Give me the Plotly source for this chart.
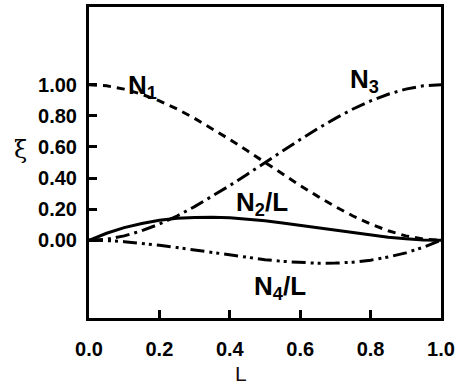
import plotly.graph_objects as go

x_vals = [0.0, 0.05, 0.1, 0.15, 0.2, 0.25, 0.3, 0.35, 0.4, 0.45, 0.5,
          0.55, 0.6, 0.65, 0.7, 0.75, 0.8, 0.85, 0.9, 0.95, 1.0]
n1_vals = [1.0, 0.993, 0.972, 0.939, 0.896, 0.844, 0.784, 0.718, 0.648, 0.575, 0.5,
           0.425, 0.352, 0.282, 0.216, 0.156, 0.104, 0.061, 0.028, 0.007, 0.0]
n2_vals = [0.0, 0.045, 0.081, 0.108, 0.128, 0.141, 0.147, 0.148, 0.144, 0.136, 0.125,
           0.111, 0.096, 0.080, 0.063, 0.047, 0.032, 0.019, 0.009, 0.002, 0.0]
n3_vals = [0.0, 0.007, 0.028, 0.061, 0.104, 0.156, 0.216, 0.282, 0.352, 0.425, 0.5,
           0.575, 0.648, 0.718, 0.784, 0.844, 0.896, 0.939, 0.972, 0.993, 1.0]
n4_vals = [0.0, -0.002, -0.009, -0.019, -0.032, -0.047, -0.063, -0.080, -0.096, -0.111, -0.125,
           -0.136, -0.144, -0.148, -0.147, -0.141, -0.128, -0.108, -0.081, -0.045, 0.0]

y_ticks = [0.0, 0.2, 0.4, 0.6, 0.8, 1.0]
y_tick_labels = ["0.00", "0.20", "0.40", "0.60", "0.80", "1.00"]
x_ticks = [0.0, 0.2, 0.4, 0.6, 0.8, 1.0]
x_tick_labels = ["0.0", "0.2", "0.4", "0.6", "0.8", "1.0"]

labels = ["N<sub>1</sub>", "N<sub>2</sub>/L", "N<sub>3</sub>", "N<sub>4</sub>/L"]
label_x = [0.151, 0.491, 0.784, 0.543]
label_y = [0.987, 0.239, 1.026, -0.303]

fig = go.Figure()
fig.add_trace(go.Scatter(x=x_vals, y=n1_vals, mode="lines",
                         line=dict(color="black", width=3, dash="8px,6px")))
fig.add_trace(go.Scatter(x=x_vals, y=n2_vals, mode="lines",
                         line=dict(color="black", width=3, dash="solid")))
fig.add_trace(go.Scatter(x=x_vals, y=n3_vals, mode="lines",
                         line=dict(color="black", width=3, dash="14px,5px,3px,5px")))
fig.add_trace(go.Scatter(x=x_vals, y=n4_vals, mode="lines",
                         line=dict(color="black", width=3, dash="14px,5px,3px,4px,3px,5px")))

font_fam = "Liberation Sans, Arial, sans-serif"
for t, lx, ly in zip(labels, label_x, label_y):
    fig.add_annotation(x=lx, y=ly, text="<b>" + t + "</b>", showarrow=False,
                       font=dict(family=font_fam, size=26, color="black"))

fig.add_annotation(xref="paper", yref="paper", x=-0.196, y=0.54, text="ξ",
                   xanchor="center", yanchor="middle", showarrow=False,
                   font=dict(family="DejaVu Serif, serif", size=24, color="black"))
fig.add_annotation(xref="paper", yref="paper", x=0.432, y=-0.178, text="L",
                   xanchor="center", yanchor="middle", showarrow=False, borderpad=0,
                   font=dict(family=font_fam, size=21, color="#1a0a0a"))

fig.update_xaxes(range=[0, 1], tickvals=x_ticks, ticktext=x_tick_labels,
                 ticks="inside", ticklen=8, tickwidth=3, tickcolor="black",
                 showline=True, linewidth=3, linecolor="black", mirror=True,
                 showgrid=False, zeroline=False, ticklabelstandoff=11,
                 automargin=False,
                 tickfont=dict(family=font_fam, size=20, color="black", weight="bold"))
fig.update_yaxes(range=[-0.5, 1.5], tickvals=y_ticks, ticktext=y_tick_labels,
                 ticks="inside", ticklen=8, tickwidth=3, tickcolor="black",
                 showline=True, linewidth=3, linecolor="black", mirror=True,
                 showgrid=False, zeroline=False, ticklabelstandoff=5,
                 automargin=False,
                 tickfont=dict(family=font_fam, size=20, color="black", weight="bold"))

fig.update_layout(width=455, height=388, showlegend=False,
                  margin=dict(l=89, r=14, t=7, b=70),
                  plot_bgcolor="white", paper_bgcolor="white")

fig.write_html("out.html", config={"displayModeBar": False},
               post_script="document.body.style.margin='0';document.body.style.overflow='hidden';")
